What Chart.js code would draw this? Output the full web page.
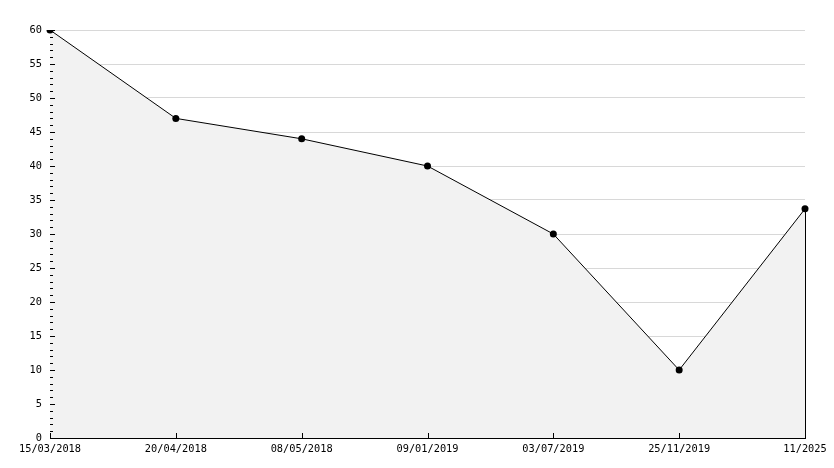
<!DOCTYPE html>
<html>
<head>
<meta charset="utf-8">
<script src="https://cdn.jsdelivr.net/npm/chart.js@4/dist/chart.umd.min.js"></script>
<style>
  html, body { margin: 0; padding: 0; background: #fff; }
  #wrap { width: 834px; height: 468px; }
</style>
</head>
<body>
<div id="wrap"><canvas id="chart"></canvas></div>
<script>
// chart data
const dates = ['15/03/2018', '20/04/2018', '08/05/2018', '09/01/2019', '03/07/2019', '25/11/2019', '11/2025'];
const values = [60, 47, 44, 40, 30, 10, 33.7];
const yMax = 60;
const yStep = 5;

// small inward ticks on both axes, and the closing edge at the right
const tickMarks = {
  id: 'tickMarks',
  afterDatasetsDraw(chart) {
    const { ctx, chartArea, scales } = chart;
    const x = scales.x, y = scales.y;
    ctx.save();
    ctx.strokeStyle = '#000';
    ctx.lineWidth = 1;
    ctx.beginPath();
    for (let v = 0; v <= yMax; v++) {
      const py = Math.round(y.getPixelForValue(v)) + 0.5;
      const len = v % yStep === 0 ? 5 : 3;
      ctx.moveTo(chartArea.left, py);
      ctx.lineTo(chartArea.left + len, py);
    }
    dates.forEach((d, i) => {
      const px = Math.round(x.getPixelForValue(i)) + 0.5;
      ctx.moveTo(px, chartArea.bottom);
      ctx.lineTo(px, chartArea.bottom - 5);
    });
    const last = values.length - 1;
    const lx = Math.round(x.getPixelForValue(last)) + 0.5;
    ctx.moveTo(lx, y.getPixelForValue(values[last]));
    ctx.lineTo(lx, chartArea.bottom);
    ctx.stroke();
    ctx.restore();
  }
};

new Chart(document.getElementById('chart'), {
  type: 'line',
  data: {
    labels: dates,
    datasets: [{
      data: values,
      borderColor: '#000',
      borderWidth: 1,
      backgroundColor: '#f2f2f2',
      fill: 'origin',
      tension: 0,
      pointStyle: 'circle',
      pointRadius: 3.5,
      pointBackgroundColor: '#000',
      pointBorderColor: '#000',
      pointBorderWidth: 0
    }]
  },
  options: {
    responsive: true,
    maintainAspectRatio: false,
    animation: false,
    layout: { padding: { left: 0, top: 30, right: 29, bottom: 0 } },
    plugins: { legend: { display: false }, tooltip: { enabled: false } },
    scales: {
      x: {
        offset: false,
        grid: { display: false, drawTicks: false },
        border: { color: '#000', width: 1 },
        ticks: {
          color: '#000',
          font: { family: 'DejaVu Sans Mono', size: 10.3 },
          padding: 5,
          maxRotation: 0,
          autoSkip: false
        },
        afterFit(scale) { scale.height = 30; }
      },
      y: {
        min: 0,
        max: yMax,
        grid: { color: '#d8d8d8', drawTicks: false },
        border: { color: '#000', width: 1 },
        ticks: {
          stepSize: yStep,
          color: '#000',
          font: { family: 'DejaVu Sans Mono', size: 10.3 },
          padding: 8
        },
        afterFit(scale) { scale.width = 50; }
      }
    }
  },
  plugins: [tickMarks]
});
</script>
</body>
</html>
